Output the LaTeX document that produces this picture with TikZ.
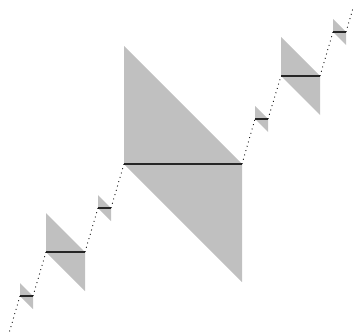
\documentclass[tikz,border=0pt]{standalone}
\definecolor{piecegray}{RGB}{192,192,192}
\begin{document}
\begin{tikzpicture}[x=1pt,y=-1pt,
  piece/.style={fill=piecegray,draw=none},
  level/.style={line width=1.5pt,draw=black!85},
  dotline/.style={line width=0.9pt,dash pattern=on 0.9pt off 3.6pt,draw=black}]
\useasboundingbox (0,0) rectangle (353,332);
\clip (0,0) rectangle (353,332);
\newcommand\mkpiece[4]{%
  \coordinate (#1l) at (#2,#4);
  \coordinate (#1r) at (#3,#4);
  \fill[piece] (#1l) -- ++(0,{-(#3-#2)}) -- (#1r) -- ++(0,{#3-#2}) -- cycle;
  \draw[level] (#1l) -- (#1r);
}
\mkpiece{p1}{20}{33}{296}
\mkpiece{p2}{46}{85}{252}
\mkpiece{p3}{98}{111}{208}
\mkpiece{p4}{124}{242}{164}
\mkpiece{p5}{255}{268}{119}
\mkpiece{p6}{281}{320}{76}
\mkpiece{p7}{333}{346}{32}
\coordinate (start) at (7,340);
\coordinate (finish) at (359,-12);
\draw[dotline] (start) -- (p1l);
\draw[dotline] (p1r) -- (p2l);
\draw[dotline] (p2r) -- (p3l);
\draw[dotline] (p3r) -- (p4l);
\draw[dotline] (p4r) -- (p5l);
\draw[dotline] (p5r) -- (p6l);
\draw[dotline] (p6r) -- (p7l);
\draw[dotline] (p7r) -- (finish);
\end{tikzpicture}
\end{document}
